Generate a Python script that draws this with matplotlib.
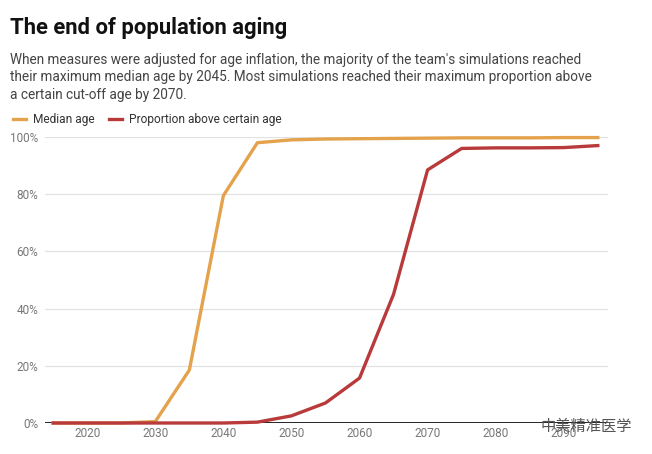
import matplotlib.pyplot as plt
from matplotlib.ticker import FuncFormatter

years = [2015, 2020, 2025, 2030, 2035, 2040, 2045, 2050, 2055, 2060,
         2065, 2070, 2075, 2080, 2085, 2090, 2095]
median_age = [0, 0, 0, 0.5, 18.5, 79.5, 98, 99, 99.3, 99.4,
              99.5, 99.6, 99.7, 99.7, 99.7, 99.8, 99.8]
proportion = [0, 0, 0, 0, 0, 0, 0.3, 2.5, 7, 15.7,
              45, 88.5, 96, 96.2, 96.2, 96.3, 97]
x_ticks = [2020, 2030, 2040, 2050, 2060, 2070, 2080, 2090]
y_ticks = [0, 20, 40, 60, 80, 100]

plt.rcParams['font.family'] = ['Roboto', 'DejaVu Sans']

fig = plt.figure(figsize=(6.52, 4.54), dpi=100)
ax = fig.add_axes([45 / 652, 1 - 423 / 454, (608 - 45) / 652, (423 - 137) / 454])

ax.plot(years, median_age, color='#e5a24c', lw=2.4, label='Median age',
        clip_on=False, zorder=3)
ax.plot(years, proportion, color='#b83a3a', lw=2.4,
        label='Proportion above certain age', clip_on=False, zorder=4)

ax.set_xlim(2013.8, 2096.5)
ax.set_ylim(0, 100)
ax.set_xticks(x_ticks)
ax.set_yticks(y_ticks)
ax.yaxis.set_major_formatter(FuncFormatter(lambda v, p: '%d%%' % v))
ax.tick_params(axis='both', length=0, labelsize=8.5, labelcolor='#777777')
ax.tick_params(axis='y', pad=5)
ax.tick_params(axis='x', pad=3)
ax.grid(axis='y', color='#e2e2e2', lw=0.9)
ax.set_axisbelow(True)
for s in ax.spines.values():
    s.set_visible(False)
ax.axhline(0, color='black', lw=1.2, zorder=2)

fig.text(10 / 652, 1 - 28 / 454, 'The end of population aging', fontsize=15.8,
         fontweight='bold', color='#111111', va='center')
fig.text(10 / 652, 1 - 53 / 454,
         "When measures were adjusted for age inflation, the majority of the team's simulations reached\n"
         "their maximum median age by 2045. Most simulations reached their maximum proportion above\n"
         "a certain cut-off age by 2070.",
         fontsize=9.8, color='#444444', va='top', linespacing=1.3)

fig.legend(loc='center left', bbox_to_anchor=(2 / 652, 1 - 120 / 454), ncol=2,
           frameon=False, fontsize=8.6, handlelength=1.1, handletextpad=0.6,
           columnspacing=1.2, labelcolor='#333333')

fig.text(586 / 652, 1 - 426 / 454, '中美精准医学', fontsize=11, color='#555555',
         ha='center', va='center', family=['Noto Sans CJK SC', 'DejaVu Sans'])

fig.savefig('out.png', dpi=100)
